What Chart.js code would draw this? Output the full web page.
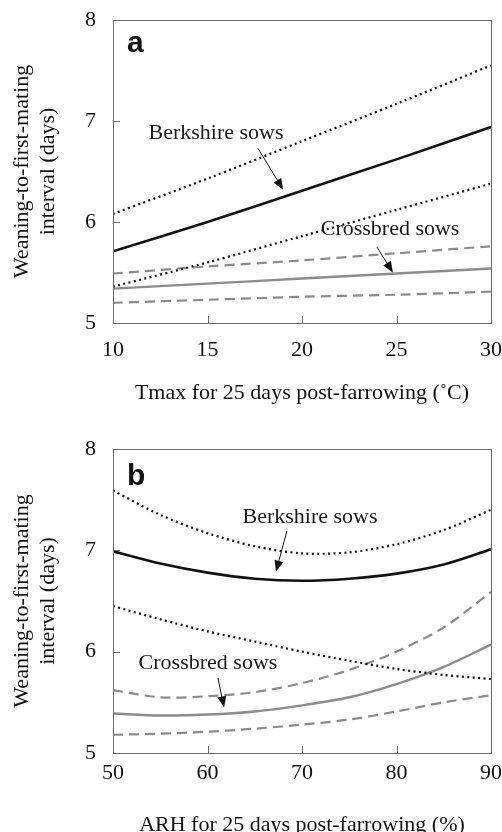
<!DOCTYPE html>
<html>
<head>
<meta charset="utf-8">
<script src="https://cdn.jsdelivr.net/npm/chart.js@4/dist/chart.umd.min.js"></script>
<style>
	html, body { margin: 0; padding: 0; background: #fff; }
	canvas { position: absolute; left: 0; }
</style>
</head>
<body>
<canvas id="charta" width="502" height="410" style="top:0px"></canvas>
<canvas id="chartb" width="502" height="422" style="top:410px"></canvas>
<script>
// panel a: Tmax
var tmax = [10, 15, 20, 25, 30];
var berkA = [5.71, 6.00, 6.31, 6.62, 6.94];
var berkUpA = [6.08, 6.43, 6.80, 7.17, 7.55];
var berkLoA = [5.36, 5.60, 5.86, 6.12, 6.38];
var crossA = [5.34, 5.39, 5.44, 5.49, 5.54];
var crossUpA = [5.49, 5.56, 5.62, 5.69, 5.76];
var crossLoA = [5.20, 5.23, 5.26, 5.28, 5.31];

// panel b: ARH
var arh = [50, 55, 60, 65, 70, 75, 80, 85, 90];
var berkB = [6.99, 6.87, 6.78, 6.72, 6.70, 6.72, 6.77, 6.86, 7.01];
var berkUpB = [7.59, 7.35, 7.17, 7.04, 6.97, 6.98, 7.06, 7.20, 7.40];
var berkLoB = [6.45, 6.32, 6.20, 6.10, 6.00, 5.91, 5.83, 5.77, 5.73];
var crossB = [5.39, 5.37, 5.38, 5.41, 5.47, 5.55, 5.68, 5.85, 6.07];
var crossUpB = [5.62, 5.55, 5.56, 5.60, 5.69, 5.82, 6.00, 6.24, 6.59];
var crossLoB = [5.18, 5.19, 5.21, 5.24, 5.28, 5.33, 5.41, 5.50, 5.57];

var yTitle = ["Weaning-to-first-mating", "interval (days)"];
var serif = "'Liberation Serif', 'Times New Roman', serif";

function pts(xs, ys) {
	return xs.map(function (x, i) { return { x: x, y: ys[i] }; });
}

function ds(xs, ys, kind) {
	var d = { data: pts(xs, ys), pointRadius: 0, fill: false, tension: 0.3 };
	if (kind === "berk") { d.borderColor = "#111"; d.borderWidth = 2.6; }
	if (kind === "berkci") { d.borderColor = "#111"; d.borderWidth = 2.2; d.borderDash = [2, 3.4]; }
	if (kind === "cross") { d.borderColor = "#8c8c8c"; d.borderWidth = 2.4; }
	if (kind === "crossci") { d.borderColor = "#8c8c8c"; d.borderWidth = 2.2; d.borderDash = [10, 6]; }
	return d;
}

function arrow(ctx, x1, y1, x2, y2) {
	var ang = Math.atan2(y2 - y1, x2 - x1);
	var len = 11, hw = 4.5;
	ctx.beginPath();
	ctx.moveTo(x1, y1);
	ctx.lineTo(x2 - Math.cos(ang) * len * 0.8, y2 - Math.sin(ang) * len * 0.8);
	ctx.lineWidth = 1;
	ctx.strokeStyle = "#111";
	ctx.stroke();
	ctx.beginPath();
	ctx.moveTo(x2, y2);
	ctx.lineTo(x2 - Math.cos(ang) * len + Math.sin(ang) * hw, y2 - Math.sin(ang) * len - Math.cos(ang) * hw);
	ctx.lineTo(x2 - Math.cos(ang) * len - Math.sin(ang) * hw, y2 - Math.sin(ang) * len + Math.cos(ang) * hw);
	ctx.closePath();
	ctx.fillStyle = "#111";
	ctx.fill();
}

// box, inward ticks, panel letter and the labels with arrows
var frame = {
	id: "frame",
	afterDraw: function (chart) {
		var o = chart.options.plugins.frame;
		var ctx = chart.ctx, a = chart.chartArea;
		var sx = chart.scales.x, sy = chart.scales.y;
		ctx.save();
		ctx.strokeStyle = "#6b6b6b";
		ctx.lineWidth = 1;
		ctx.strokeRect(Math.round(a.left) + 0.5, Math.round(a.top) + 0.5, Math.round(a.right - a.left), Math.round(a.bottom - a.top));
		ctx.beginPath();
		sx.ticks.forEach(function (t) {
			var px = Math.round(sx.getPixelForValue(t.value)) + 0.5;
			ctx.moveTo(px, a.bottom);
			ctx.lineTo(px, a.bottom - 7);
		});
		sy.ticks.forEach(function (t) {
			var py = Math.round(sy.getPixelForValue(t.value)) + 0.5;
			ctx.moveTo(a.left, py);
			ctx.lineTo(a.left + 7, py);
		});
		ctx.stroke();

		ctx.fillStyle = "#111";
		ctx.font = "bold 30px 'Liberation Sans', Arial, sans-serif";
		ctx.textAlign = "left";
		ctx.textBaseline = "alphabetic";
		ctx.fillText(o.letter, a.left + 14, a.top + o.letterY);

		ctx.font = "22px " + serif;
		ctx.textAlign = "center";
		ctx.textBaseline = "middle";
		o.notes.forEach(function (n) {
			ctx.fillStyle = "#1a1a1a";
			ctx.fillText(n.text, sx.getPixelForValue(n.x), sy.getPixelForValue(n.y));
			arrow(ctx, sx.getPixelForValue(n.from[0]), sy.getPixelForValue(n.from[1]),
				sx.getPixelForValue(n.to[0]), sy.getPixelForValue(n.to[1]));
		});
		ctx.restore();
	}
};

function makeChart(id, xs, series, xmin, xmax, xstep, xTitle, pad, o) {
	var config = {
		type: "line",
		data: {
			datasets: [
				ds(xs, series[0], "berkci"),
				ds(xs, series[1], "berk"),
				ds(xs, series[2], "berkci"),
				ds(xs, series[3], "crossci"),
				ds(xs, series[4], "cross"),
				ds(xs, series[5], "crossci")
			]
		},
		options: {
			responsive: false,
			animation: false,
			layout: { padding: { left: 0, right: 11, top: pad.top, bottom: 0 } },
			plugins: {
				legend: { display: false },
				tooltip: { enabled: false },
				frame: o
			},
			scales: {
				x: {
					type: "linear",
					min: xmin,
					max: xmax,
					ticks: { stepSize: xstep, color: "#111", padding: pad.tick, font: { family: serif, size: 22 } },
					grid: { display: false, drawTicks: false },
					border: { display: false },
					title: {
						display: true,
						text: xTitle,
						color: "#111",
						font: { family: serif, size: 22, lineHeight: 1 },
						padding: { top: 0, bottom: pad.title }
					},
					afterFit: function (scale) {
						scale.height = pad.xh;
						scale.paddingLeft = 0;
						scale.paddingRight = 0;
					}
				},
				y: {
					min: 5,
					max: 8,
					ticks: { stepSize: 1, color: "#111", padding: 17, font: { family: serif, size: 22 } },
					grid: { display: false, drawTicks: false },
					border: { display: false },
					title: {
						display: true,
						text: yTitle,
						color: "#111",
						font: { family: serif, size: 22, lineHeight: 1.18 },
						padding: { top: 9, bottom: 0 }
					},
					afterFit: function (scale) {
						scale.width = 113;
						scale.paddingTop = 0;
						scale.paddingBottom = 0;
					}
				}
			}
		},
		plugins: [frame]
	};
	var ctx = document.getElementById(id).getContext("2d");
	return new Chart(ctx, config);
}

makeChart("charta", tmax, [berkUpA, berkA, berkLoA, crossUpA, crossA, crossLoA], 10, 30, 5,
	"Tmax for 25 days post-farrowing (\u02daC)",
	{ top: 20, xh: 87, tick: 14, title: 6 },
	{
		letter: "a", letterY: 32,
		notes: [
			{ text: "Berkshire sows", x: 15.45, y: 6.88, from: [17.67, 6.73], to: [19.0, 6.32] },
			{ text: "Crossbred sows", x: 24.66, y: 5.93, from: [23.97, 5.75], to: [24.81, 5.50] }
		]
	});

makeChart("chartb", arh, [berkUpB, berkB, berkLoB, crossUpB, crossB, crossLoB], 50, 90, 10,
	"ARH for 25 days post-farrowing (%)",
	{ top: 39, xh: 79, tick: 7, title: -4 },
	{
		letter: "b", letterY: 36,
		notes: [
			{ text: "Berkshire sows", x: 70.85, y: 7.33, from: [68.4, 7.19], to: [67.25, 6.79] },
			{ text: "Crossbred sows", x: 60.05, y: 5.89, from: [61.1, 5.74], to: [61.75, 5.45] }
		]
	});
</script>
</body>
</html>
